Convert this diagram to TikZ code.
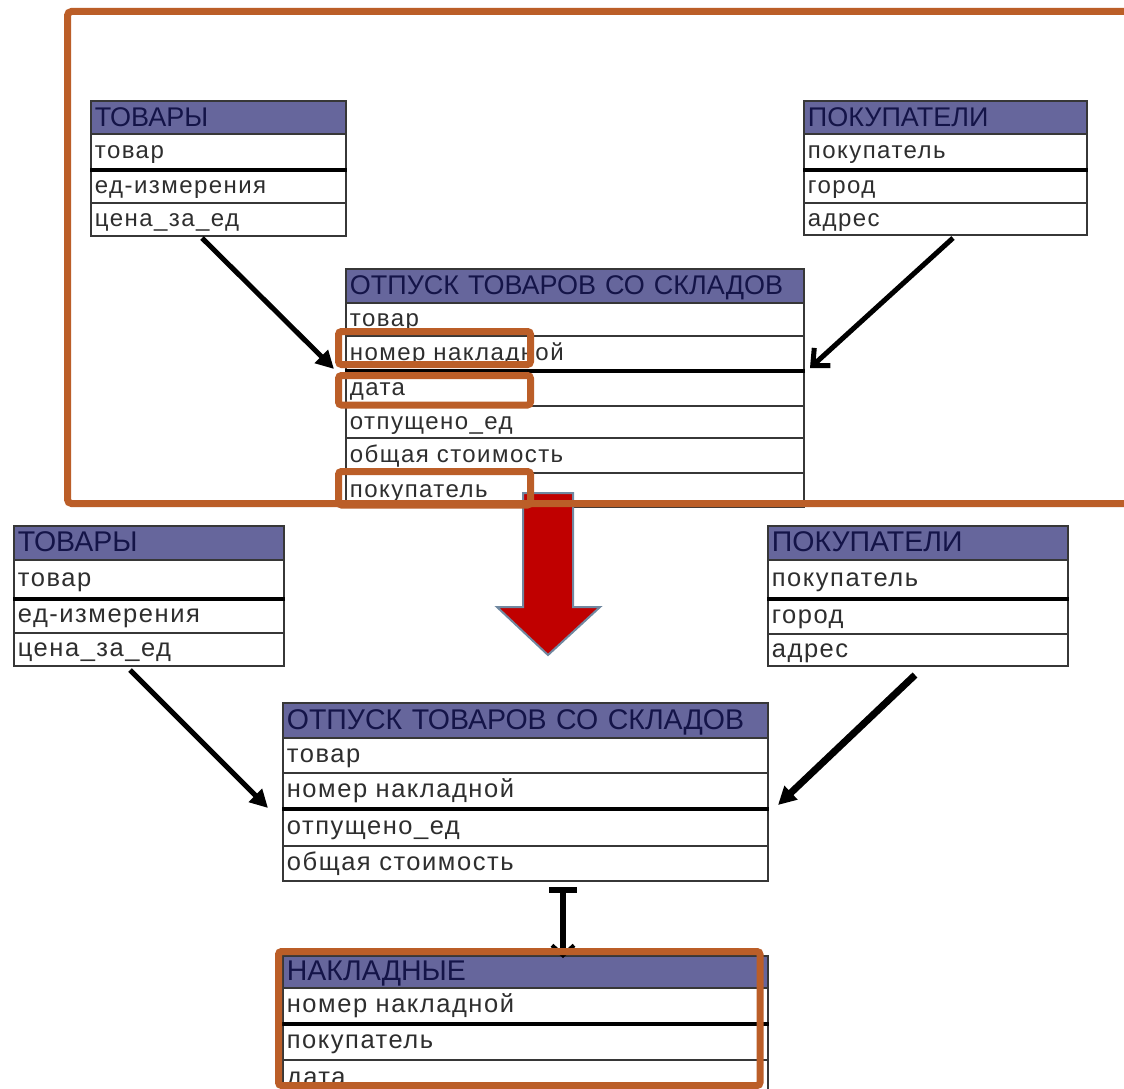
\documentclass[tikz,border=0pt]{standalone}
\usepackage{fontspec}
\setmainfont{Liberation Sans}
\newfontfamily\rowfam[LetterSpace=6]{Liberation Sans}
\newfontfamily\hdrfam{Liberation Sans}
\usetikzlibrary{arrows.meta}
\definecolor{hdrfill}{RGB}{102,102,156}
\definecolor{hdrtext}{RGB}{20,20,72}
\definecolor{tline}{RGB}{55,55,55}
\definecolor{orng}{RGB}{187,94,40}
\definecolor{redar}{RGB}{192,0,0}
\definecolor{redout}{RGB}{112,136,160}
\newcommand\trow[7]{\node[#2, minimum width=#6pt, minimum height=#5pt, text width=\dimexpr#6pt-8pt\relax] (#1) at (#3,#4) {#7};}
\tikzset{
  cell/.style={draw=tline, line width=1.8pt, anchor=north west, inner xsep=3pt, inner ysep=0pt, align=left},
  hdrT/.style={cell, fill=hdrfill, text=hdrtext, font=\hdrfam\fontsize{27}{27}\selectfont, text height=20pt, text depth=2pt},
  fldT/.style={cell, fill=white, text=black!82, font=\rowfam\fontsize{24}{24}\selectfont, text height=18pt, text depth=3pt},
  hdrB/.style={hdrT, font=\hdrfam\fontsize{28.5}{28.5}\selectfont},
  fldB/.style={fldT, font=\rowfam\fontsize{25.5}{25.5}\selectfont},
  sepline/.style={black, line width=3.5pt},
  link/.style={black, line width=5pt, -{Triangle[length=18pt, width=18pt]}},
  linkB/.style={black, line width=5pt, -{Straight Barb[length=13pt, width=24pt, line width=5pt]}},
  frame/.style={orng, line width=7pt, rounded corners=4pt},
  hl/.style={orng, line width=7pt, rounded corners=3pt},
  bigarrow/.style={fill=redar, draw=redout, line width=2pt, line join=miter},
}
\begin{document}
\begin{tikzpicture}[x=1pt, y=-1pt]
\useasboundingbox (0,0) rectangle (1124,1089);
\clip (0,0) rectangle (1124,1089);
\fill[white] (0,0) rectangle (1124,1089);

% ---------- top: ТОВАРЫ ----------
\trow{tA0}{hdrT}{90}{100}{33}{255}{ТОВАРЫ}
\trow{tA1}{fldT}{90}{133}{35}{255}{товар}
\trow{tA2}{fldT}{90}{168}{34}{255}{ед-измерения}
\trow{tA3}{fldT}{90}{202}{33}{255}{цена\_за\_ед}
\draw[sepline] (tA1.south west) -- (tA1.south east);

% ---------- top: ПОКУПАТЕЛИ ----------
\trow{tB0}{hdrT}{803}{100}{33}{283}{ПОКУПАТЕЛИ}
\trow{tB1}{fldT}{803}{133}{35}{283}{покупатель}
\trow{tB2}{fldT}{803}{168}{34}{283}{город}
\trow{tB3}{fldT}{803}{202}{32}{283}{адрес}
\draw[sepline] (tB1.south west) -- (tB1.south east);

% ---------- top: центр ----------
\trow{tC0}{hdrT}{345}{268}{34}{458}{ОТПУСК ТОВАРОВ СО СКЛАДОВ}
\trow{tC1}{fldT}{345}{302}{33}{458}{товар}
\trow{tC2}{fldT}{345}{335}{34}{458}{номер накладной}
\trow{tC3}{fldT}{345}{369}{36}{458}{дата}
\trow{tC4}{fldT}{345}{405}{32}{458}{отпущено\_ед}
\trow{tC5}{fldT}{345}{437}{35}{458}{общая стоимость}
\trow{tC6}{fldT}{345}{472}{34}{458}{покупатель}
\draw[sepline] (tC2.south west) -- (tC2.south east);

% ---------- bottom: ТОВАРЫ ----------
\trow{tD0}{hdrB}{13}{525}{34}{270}{ТОВАРЫ}
\trow{tD1}{fldB}{13}{559}{38}{270}{товар}
\trow{tD2}{fldB}{13}{597}{35}{270}{ед-измерения}
\trow{tD3}{fldB}{13}{632}{33}{270}{цена\_за\_ед}
\draw[sepline] (tD1.south west) -- (tD1.south east);

% ---------- bottom: ПОКУПАТЕЛИ ----------
\trow{tE0}{hdrB}{767}{525}{34}{300}{ПОКУПАТЕЛИ}
\trow{tE1}{fldB}{767}{559}{38}{300}{покупатель}
\trow{tE2}{fldB}{767}{597}{36}{300}{город}
\trow{tE3}{fldB}{767}{633}{32}{300}{адрес}
\draw[sepline] (tE1.south west) -- (tE1.south east);

% ---------- bottom: центр ----------
\trow{tF0}{hdrB}{282}{702}{35}{485}{ОТПУСК ТОВАРОВ СО СКЛАДОВ}
\trow{tF1}{fldB}{282}{737}{35}{485}{товар}
\trow{tF2}{fldB}{282}{772}{35}{485}{номер накладной}
\trow{tF3}{fldB}{282}{807}{38}{485}{отпущено\_ед}
\trow{tF4}{fldB}{282}{845}{35}{485}{общая стоимость}
\draw[sepline] (tF2.south west) -- (tF2.south east);

% ---------- bottom: НАКЛАДНЫЕ ----------
\trow{tG0}{hdrB}{282}{955}{32}{485}{НАКЛАДНЫЕ}
\trow{tG1}{fldB}{282}{987}{35}{485}{номер накладной}
\trow{tG2}{fldB}{282}{1022}{37}{485}{покупатель}
\trow{tG3}{fldB}{282}{1059}{36}{485}{дата}
\draw[sepline] (tG1.south west) -- (tG1.south east);

% ---------- connectors ----------
\coordinate (a1s) at (202,238);
\coordinate (a1e) at (334,369);
\coordinate (a2s) at (953,238);
\coordinate (a2e) at (810,368);
\coordinate (a3s) at (130,670);
\coordinate (a3e) at (268,808);
\coordinate (a4s) at (915,675);
\coordinate (a4e) at (778,805);
\coordinate (a5s) at (563,887);
\coordinate (a5e) at (563,958);
\draw[link] (a1s) -- (a1e);
\draw[linkB] (a2s) -- (a2e);
\draw[link] (a3s) -- (a3e);
\draw[link, line width=7pt] (a4s) -- (a4e);
\draw[black, line width=6pt, {Bar[width=28pt, line width=6pt]}-{Straight Barb[length=10pt, width=22pt, line width=4pt]}] (a5s) -- (a5e);

% ---------- big red arrow ----------
\draw[bigarrow] (523,493) -- (573,493) -- (573,607) -- (600,607) -- (548,655) -- (497,607) -- (523,607) -- cycle;

% ---------- orange highlights ----------
\draw[frame] (67.5,11.5) rectangle (1140,503.5);
\draw[hl] (338.5,331.5) rectangle (530.5,364.5);
\draw[hl] (338.5,375.5) rectangle (530.5,405);
\draw[hl] (338.5,471.5) rectangle (530.5,505);
\draw[hl] (278.5,951.5) rectangle (760,1085.5);
\end{tikzpicture}
\end{document}
